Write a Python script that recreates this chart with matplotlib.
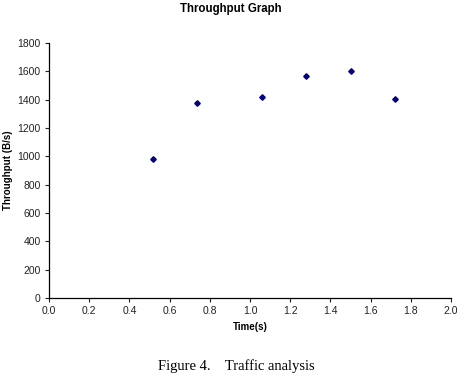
import matplotlib
matplotlib.use("Agg")
import matplotlib.pyplot as plt

# data
time_s = [0.515, 0.735, 1.06, 1.28, 1.50, 1.72]
throughput = [980, 1375, 1420, 1565, 1605, 1405]
x_ticks = [0.0, 0.2, 0.4, 0.6, 0.8, 1.0, 1.2, 1.4, 1.6, 1.8, 2.0]
y_ticks = [0, 200, 400, 600, 800, 1000, 1200, 1400, 1600, 1800]

plt.rcParams['font.family'] = ['Liberation Sans', 'DejaVu Sans']

fig = plt.figure(figsize=(4.65, 3.8), dpi=100)
ax = fig.add_axes([49/465, 1 - 298/380, (451-49)/465, (298-43)/380])

ax.plot(time_s, throughput, linestyle='none', marker='D', markersize=2.8,
        color='#000080')

ax.set_xlim(0, 2.0)
ax.set_ylim(0, 1800)
ax.set_xticks(x_ticks)
ax.set_xticklabels(['%.1f' % t for t in x_ticks])
ax.set_yticks(y_ticks)
for s in ['top', 'right']:
    ax.spines[s].set_visible(False)
for s in ['left', 'bottom']:
    ax.spines[s].set_linewidth(0.9)
ax.tick_params(direction='out', length=3, width=0.8, labelsize=7.5, pad=3,
               colors='#222222')

ax.set_xlabel('Time(s)', fontsize=7, fontweight='bold', labelpad=4)
ax.set_ylabel('Throughput (B/s)', fontsize=7, fontweight='bold', labelpad=3)
fig.text(0.497, 1 - 9/380, 'Throughput Graph', ha='center', va='center',
         fontsize=8.3, fontweight='bold')
fig.text(0.508, 1 - 366/380, 'Figure 4.    Traffic analysis', ha='center',
         va='center', fontsize=10.5, family=['Liberation Serif', 'DejaVu Serif'])

fig.savefig('out.png', dpi=100)
